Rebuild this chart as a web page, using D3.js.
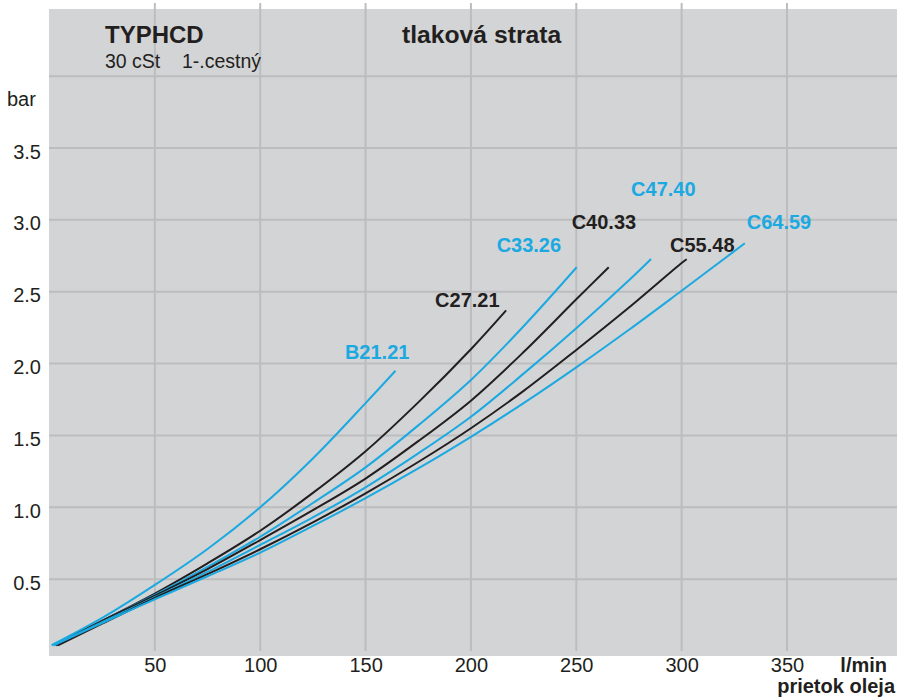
<!DOCTYPE html>
<html>
<head>
<meta charset="utf-8">
<script src="https://cdn.jsdelivr.net/npm/d3@7"></script>
<style>
  html, body { margin: 0; padding: 0; background: #ffffff; }
  svg { display: block; font-family: "Liberation Sans", Arial, Helvetica, sans-serif; }
</style>
</head>
<body>
<svg id="chart" width="897" height="700"></svg>
<script>
// ---------- data ----------
const seriesNames = ["B21.21", "C27.21", "C33.26", "C40.33", "C47.40", "C55.48", "C64.59"];
const seriesColors = ["blue", "black", "blue", "black", "blue", "black", "blue"];

const flowB2121 = [1, 25, 50, 75, 100, 125, 150, 164.2];
const presB2121 = [0.04, 0.23, 0.46, 0.71, 1.0, 1.34, 1.725, 1.95];

const flowC2721 = [3, 25, 50, 75, 100, 125, 150, 175, 200, 216.7];
const presC2721 = [0.04, 0.21, 0.40, 0.61, 0.837, 1.10, 1.39, 1.73, 2.10, 2.37];

const flowC3326 = [2, 25, 50, 75, 100, 125, 150, 175, 200, 225, 250.2];
const presC3326 = [0.04, 0.21, 0.39, 0.585, 0.795, 1.03, 1.278, 1.57, 1.886, 2.26, 2.67];

const flowC4033 = [3, 25, 50, 75, 100, 125, 150, 175, 200, 225, 250, 265.4];
const presC4033 = [0.04, 0.21, 0.385, 0.57, 0.772, 0.98, 1.20, 1.46, 1.742, 2.08, 2.447, 2.67];

const flowC4740 = [2, 25, 50, 75, 100, 125, 150, 175, 200, 225, 250, 275, 285.5];
const presC4740 = [0.04, 0.20, 0.375, 0.55, 0.738, 0.93, 1.139, 1.375, 1.63, 1.93, 2.246, 2.58, 2.728];

const flowC5548 = [4, 25, 50, 75, 100, 125, 150, 175, 200, 225, 250, 275, 300, 302.4];
const presC5548 = [0.04, 0.19, 0.37, 0.535, 0.708, 0.895, 1.097, 1.315, 1.55, 1.81, 2.095, 2.39, 2.70, 2.726];

const flowC6459 = [2, 25, 50, 75, 100, 125, 150, 175, 200, 225, 250, 275, 300, 330];
const presC6459 = [0.04, 0.195, 0.36, 0.52, 0.684, 0.87, 1.063, 1.27, 1.49, 1.725, 1.974, 2.235, 2.507, 2.837];

const seriesFlow = [flowB2121, flowC2721, flowC3326, flowC4033, flowC4740, flowC5548, flowC6459];
const seriesPres = [presB2121, presC2721, presC3326, presC4033, presC4740, presC5548, presC6459];

// label anchors (data units: flow, pressure)
const labelFlow = [140.2, 183.0, 212.2, 247.8, 276.0, 294.5, 330.9];
const labelPres = [2.032, 2.396, 2.779, 2.937, 3.166, 2.779, 2.939];

const xTicks = [50, 100, 150, 200, 250, 300, 350];
const yTicks = [0.5, 1.0, 1.5, 2.0, 2.5, 3.0, 3.5];
const yGrid = [0.5, 1.0, 1.5, 2.0, 2.5, 3.0, 3.5, 4.0];

// ---------- styling ----------
const BLUE = "#1ba9e1";
const BLACK = "#231f20";
const BG = "#d3d4d6";
const GRID = "#bcbdbf";

const svg = d3.select("#chart");

const x = d3.scaleLinear().domain([0, 350]).range([49.5, 787]);
const y = d3.scaleLinear().domain([0, 3.5]).range([651, 148]);

// plot background
svg.append("rect")
  .attr("x", 49).attr("y", 9)
  .attr("width", 897 - 49).attr("height", 656 - 9)
  .attr("fill", BG);

// vertical grid
svg.append("g").selectAll("line").data(xTicks).join("line")
  .attr("x1", d => x(d)).attr("x2", d => x(d))
  .attr("y1", 3).attr("y2", y(0))
  .attr("stroke", GRID).attr("stroke-width", 2);

// horizontal grid
svg.append("g").selectAll("line").data(yGrid).join("line")
  .attr("x1", 49).attr("x2", 897)
  .attr("y1", d => y(d)).attr("y2", d => y(d))
  .attr("stroke", GRID).attr("stroke-width", 2);

// axes labels (ticks)
const xAxis = d3.axisBottom(x).tickValues(xTicks).tickSize(0).tickPadding(0)
  .tickFormat(d3.format("d"));
const gx = svg.append("g").attr("transform", `translate(0, 652)`).call(xAxis);
gx.select(".domain").remove();
gx.selectAll("text").attr("font-size", 20).attr("fill", BLACK)
  .attr("font-family", "Liberation Sans, Arial, sans-serif")
  .attr("dy", "1.0em");

const yAxis = d3.axisLeft(y).tickValues(yTicks).tickSize(0).tickPadding(0)
  .tickFormat(d3.format(".1f"));
const gy = svg.append("g").attr("transform", `translate(41, 0)`).call(yAxis);
gy.select(".domain").remove();
gy.selectAll("text").attr("font-size", 20).attr("fill", BLACK)
  .attr("font-family", "Liberation Sans, Arial, sans-serif")
  .attr("dy", "0.5em");

// curves
const line = d3.line()
  .x(d => x(d[0])).y(d => y(d[1]))
  .curve(d3.curveCatmullRom.alpha(0.5));

seriesNames.forEach((name, i) => {
  const pts = seriesFlow[i].map((f, j) => [f, seriesPres[i][j]]);
  const col = seriesColors[i] === "blue" ? BLUE : BLACK;
  svg.append("path")
    .datum(pts)
    .attr("d", line)
    .attr("fill", "none")
    .attr("stroke", col)
    .attr("stroke-width", 2);
  svg.append("text")
    .attr("x", x(labelFlow[i]))
    .attr("y", y(labelPres[i]))
    .attr("font-size", 20)
    .attr("font-weight", "bold")
    .attr("fill", col)
    .text(name);
});

// titles
svg.append("text").attr("x", 105).attr("y", 43)
  .attr("font-size", 24).attr("font-weight", "bold").attr("fill", BLACK)
  .text("TYPHCD");
svg.append("text").attr("x", 105).attr("y", 68)
  .attr("font-size", 19.5).attr("fill", BLACK)
  .style("white-space", "pre")
  .text("30 cSt    1-.cestný");
svg.append("text").attr("x", 402).attr("y", 43)
  .attr("font-size", 24.7).attr("font-weight", "bold").attr("fill", BLACK)
  .text("tlaková strata");

// axis titles
svg.append("text").attr("x", 7).attr("y", 106)
  .attr("font-size", 20).attr("fill", BLACK).text("bar");
svg.append("text").attr("x", 887).attr("y", 672).attr("text-anchor", "end")
  .attr("font-size", 20).attr("font-weight", "bold").attr("fill", BLACK).text("l/min");
svg.append("text").attr("x", 895).attr("y", 693).attr("text-anchor", "end")
  .attr("font-size", 20).attr("font-weight", "bold").attr("fill", BLACK).text("prietok oleja");
</script>
</body>
</html>
